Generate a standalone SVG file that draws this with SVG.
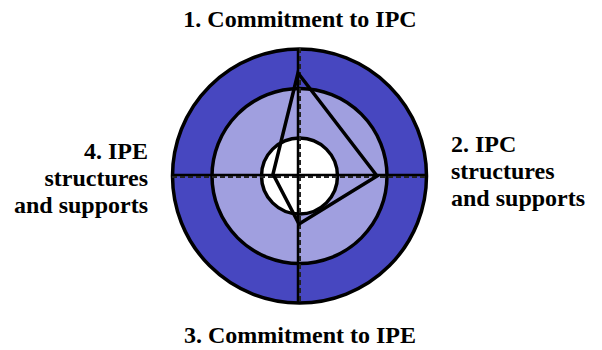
<svg xmlns="http://www.w3.org/2000/svg" width="602" height="350" viewBox="0 0 602 350">
<style>
.ring{stroke:#000;stroke-width:3.5}
.axis{stroke:#000;stroke-width:2.5;fill:none}
.dash{stroke:#222;stroke-width:2;stroke-dasharray:5,3;fill:none}
</style>
<rect width="602" height="350" fill="#fff"/>
<g id="rings">
<circle class="ring" cx="299.5" cy="176" r="127" fill="#4747C0"/>
<circle class="ring" cx="299.5" cy="176" r="87.5" fill="#A09FDF"/>
<circle class="ring" cx="299.5" cy="176" r="38" fill="#fff"/>
</g>
<g id="connectors">
<line class="axis" x1="172" y1="175" x2="427" y2="175"/>
<line class="dash" x1="172" y1="177" x2="427" y2="177"/>
<line class="axis" x1="298" y1="48" x2="298" y2="304"/>
<line class="dash" x1="300" y1="48" x2="300" y2="304"/>
<polygon points="298,73 377,176 299,224 273,174" fill="none" stroke="#000" stroke-width="3.5" stroke-linejoin="miter"/>
</g>
<g font-family="Liberation Serif, Times New Roman, serif" font-weight="bold" font-size="24" fill="#000">
<g id="n1"><text x="300" y="27" text-anchor="middle">1. Commitment to IPC</text></g>
<g id="n2"><text x="451" y="152">2. IPC</text><text x="451" y="179">structures</text><text x="451" y="206">and supports</text></g>
<g id="n3"><text x="300" y="343" text-anchor="middle">3. Commitment to IPE</text></g>
<g id="n4"><text x="148" y="159" text-anchor="end">4. IPE</text><text x="148" y="186" text-anchor="end">structures</text><text x="148" y="213" text-anchor="end">and supports</text></g>
</g>
</svg>
